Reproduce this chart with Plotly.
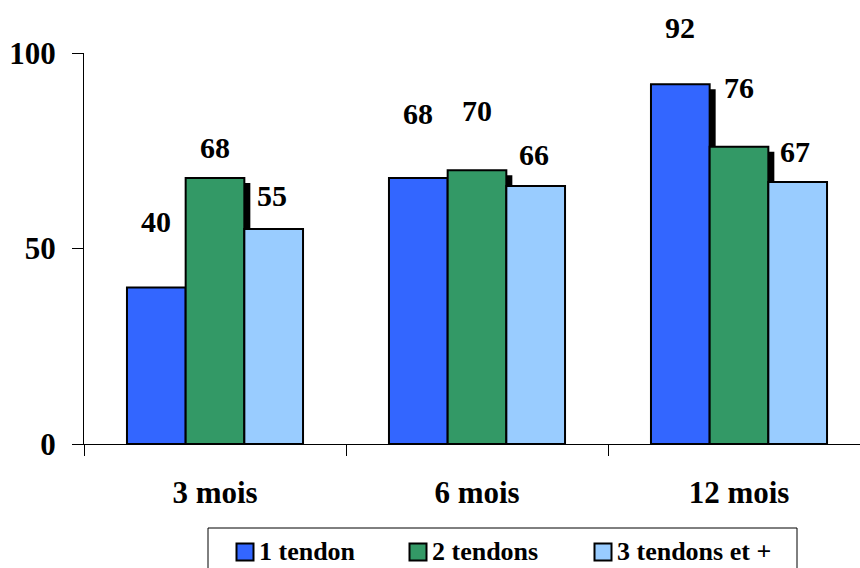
import plotly.graph_objects as go

categories = ["3 mois", "6 mois", "12 mois"]
series_names = ["1 tendon", "2 tendons", "3 tendons et +"]
values_1 = [40, 68, 92]
values_2 = [68, 70, 76]
values_3 = [55, 66, 67]
y_ticks = [0, 50, 100]

series_values = [values_1, values_2, values_3]
colors = ["#3366FF", "#339966", "#99CCFF"]
has_shadow = [True, True, False]
# label offsets (px above bar top), per series per category
label_dy = [[66, 65, 57], [31, 60, 59], [33, 31, 31]]
label_dx = [[0, 0, 0], [0, 0, 0], [-2, -2, -3]]

FONT = "Liberation Serif"
W, H = 860, 568
ML, MT, MB = 84, 53, 124
PW, PH = W - ML, H - MT - MB
bargap = 0.328
n = len(series_names)
w = (1 - bargap) / n
x_range = [-0.5, -0.5 + PW / 262.0]

# legend layout (pixels)
leg_box = (208, 528, 797, 610)
leg_sq_cx = [245, 418, 603]
leg_sq_cy = 552
leg_sq = 17


def px_x(p):
    return (p - ML) / PW


def px_y(p):
    return (H - MB - p) / PH


fig = go.Figure()
for s in range(n):
    fig.add_trace(go.Bar(
        x=categories, y=series_values[s], name=series_names[s],
        marker=dict(color=colors[s], line=dict(color="black", width=2)),
        showlegend=False, cliponaxis=False,
    ))

shapes = []
annotations = []
for s in range(n):
    for c in range(len(categories)):
        v = series_values[s][c]
        xc = c - (1 - bargap) / 2 + (s + 0.5) * w
        if has_shadow[s]:
            shapes.append(dict(
                type="rect", xref="x", yref="y", layer="below",
                xsizemode="pixel", xanchor=xc + w / 2, x0=-2, x1=6,
                ysizemode="pixel", yanchor=v, y0=-5, y1=-600,
                fillcolor="black", line=dict(width=0),
            ))
        annotations.append(dict(
            x=xc, y=v, xref="x", yref="y", text=str(v), showarrow=False,
            xanchor="center", yanchor="middle",
            xshift=label_dx[s][c], yshift=label_dy[s][c],
            font=dict(family=FONT, size=30, color="black", weight="bold"),
        ))

# legend drawn by hand
shapes.append(dict(
    type="rect", xref="paper", yref="paper",
    x0=px_x(leg_box[0]), x1=px_x(leg_box[2]),
    y0=px_y(leg_box[1]), y1=px_y(leg_box[3]),
    line=dict(color="black", width=1), fillcolor="white",
))
for s in range(n):
    cx = leg_sq_cx[s]
    shapes.append(dict(
        type="rect", xref="paper", yref="paper",
        x0=px_x(cx - leg_sq / 2), x1=px_x(cx + leg_sq / 2),
        y0=px_y(leg_sq_cy + leg_sq / 2), y1=px_y(leg_sq_cy - leg_sq / 2),
        line=dict(color="black", width=2), fillcolor=colors[s],
    ))
    annotations.append(dict(
        x=px_x(cx + leg_sq / 2 + 3), y=px_y(leg_sq_cy - 1), xref="paper", yref="paper",
        text=series_names[s], showarrow=False, xanchor="left", yanchor="middle",
        font=dict(family=FONT, size=26, color="black", weight="bold"),
    ))

fig.update_layout(
    width=W, height=H,
    margin=dict(l=ML, r=0, t=MT, b=MB, autoexpand=False),
    paper_bgcolor="white", plot_bgcolor="white",
    barmode="group", bargap=bargap, bargroupgap=0,
    showlegend=False,
    xaxis=dict(
        type="category", range=x_range,
        tickson="boundaries", ticks="outside", ticklen=11,
        tickcolor="black", tickwidth=1, showline=True, linecolor="black", linewidth=1,
        showgrid=False, zeroline=False, ticklabelstandoff=21,
        tickfont=dict(family=FONT, size=31, color="black", weight="bold"),
    ),
    yaxis=dict(
        range=[0, 100], tickvals=y_ticks, ticks="outside", ticklen=11,
        tickcolor="black", tickwidth=1, showline=True, linecolor="black", linewidth=1,
        showgrid=False, zeroline=False, ticklabelstandoff=10,
        tickfont=dict(family=FONT, size=31, color="black", weight="bold"),
    ),
    shapes=shapes, annotations=annotations,
)

fig.write_html(
    "out.html",
    config={"displayModeBar": False},
    post_script="document.body.style.margin='0';document.body.style.overflow='hidden';",
)
